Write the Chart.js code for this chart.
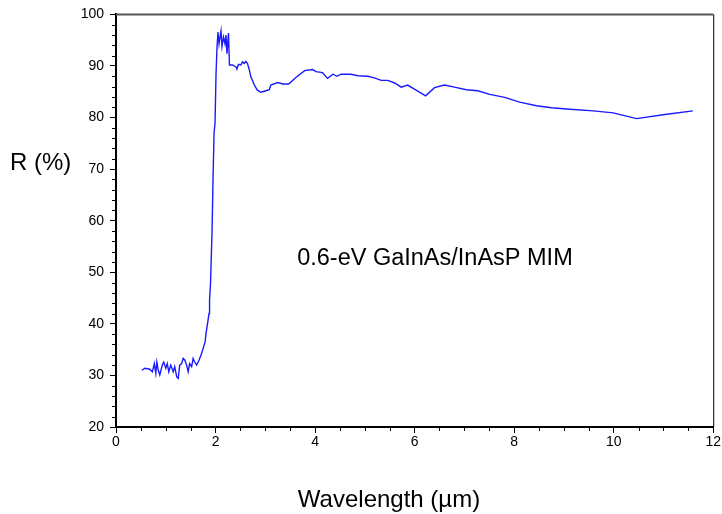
<!DOCTYPE html>
<html lang="en">

<head>
    <meta charset="UTF-8">
    <title>R vs Wavelength</title>
    <script src="https://cdn.jsdelivr.net/npm/chart.js@4.4.0/dist/chart.umd.min.js"></script>
    <style>
        body { margin: 0; background: #fff; }
    </style>
</head>

<body>
    <canvas id="reflChart" width="722" height="514"></canvas>

    <script>
        // wavelength (um) and reflectance (%)
        const wavelength = [
            0.52, 0.58, 0.68, 0.73, 0.77, 0.80, 0.82, 0.85, 0.88, 0.93, 0.96, 1.00, 1.03, 1.06, 1.10,
            1.15, 1.18, 1.22, 1.25, 1.28, 1.32, 1.35, 1.38, 1.42, 1.45, 1.48, 1.52, 1.55, 1.58, 1.62,
            1.67, 1.71, 1.75, 1.79, 1.81, 1.84, 1.87, 1.88, 1.90, 1.93, 1.95, 1.97, 1.99, 2.01, 2.03,
            2.05, 2.07, 2.11, 2.13, 2.16, 2.19, 2.21, 2.23, 2.26, 2.28, 2.34, 2.41, 2.43, 2.46, 2.51,
            2.54, 2.58, 2.61, 2.64, 2.68, 2.71, 2.78, 2.84, 2.91, 2.98, 3.08, 3.11, 3.25, 3.35, 3.47,
            3.62, 3.79, 3.95, 4.02, 4.15, 4.25, 4.36, 4.44, 4.52, 4.72, 4.86, 5.06, 5.19, 5.33, 5.46,
            5.60, 5.73, 5.86, 6.03, 6.22, 6.40, 6.60, 6.80, 7.04, 7.27, 7.51, 7.81, 8.11, 8.45, 8.75,
            9.12, 9.59, 9.99, 10.46, 11.03, 11.59
        ];
        const reflectance = [
            31.0, 31.4, 31.2, 30.7, 32.3, 30.4, 32.6, 31.0, 30.1, 32.0, 32.6, 31.4, 32.3, 30.7, 32.0,
            30.7, 31.7, 29.7, 29.4, 32.0, 32.3, 33.3, 33.0, 32.0, 30.7, 32.3, 31.7, 33.3, 32.6, 32.0,
            33.0, 34.0, 35.2, 36.5, 38.2, 40.1, 42.0, 44.6, 48.0, 58.0, 68.3, 77.0, 78.9, 88.5, 93.7,
            96.6, 94.3, 96.8, 93.8, 95.6, 94.3, 96.0, 92.4, 96.4, 90.2, 90.2, 89.8, 89.4, 90.3, 90.2,
            90.8, 90.5, 90.9, 90.5, 89.2, 87.9, 86.3, 85.3, 84.9, 85.1, 85.4, 86.3, 86.8, 86.5, 86.5,
            87.8, 89.1, 89.3, 88.9, 88.7, 87.6, 88.4, 88.0, 88.4, 88.4, 88.1, 88.0, 87.7, 87.2, 87.2,
            86.7, 85.9, 86.3, 85.3, 84.2, 85.8, 86.3, 85.9, 85.4, 85.2, 84.5, 83.9, 83.0, 82.3, 81.9,
            81.6, 81.3, 80.9, 79.8, 80.6, 81.3
        ];

        const xMin = 0, xMax = 12, xStep = 0.5, xLabelEvery = 2;
        const yMin = 20, yMax = 100, yStep = 2, yLabelEvery = 10;

        const sampleLabel = '0.6-eV GaInAs/InAsP MIM';
        const xTitle = 'Wavelength (\u00b5m)';
        const yTitle = 'R (%)';

        const isMajor = (v, every) => Math.abs(v / every - Math.round(v / every)) < 1e-6;

        // minor ticks, frame and the free text labels
        const decorations = {
            id: 'decorations',
            afterDraw(chart) {
                const ctx = chart.ctx;
                const area = chart.chartArea;
                const xs = chart.scales.x;
                const ys = chart.scales.y;

                ctx.save();
                ctx.strokeStyle = '#000';
                ctx.lineWidth = 1;
                ctx.beginPath();
                xs.ticks.forEach(t => {
                    if (isMajor(t.value, xLabelEvery)) return;
                    const px = Math.round(xs.getPixelForValue(t.value)) + 0.5;
                    ctx.moveTo(px, area.bottom);
                    ctx.lineTo(px, area.bottom + 4);
                });
                ys.ticks.forEach(t => {
                    if (isMajor(t.value, yLabelEvery)) return;
                    const py = Math.round(ys.getPixelForValue(t.value)) + 0.5;
                    ctx.moveTo(area.left, py);
                    ctx.lineTo(area.left - 4, py);
                });
                ctx.stroke();

                // top and right frame
                ctx.strokeStyle = '#555';
                ctx.lineWidth = 2;
                ctx.beginPath();
                ctx.moveTo(area.left, area.top);
                ctx.lineTo(area.right, area.top);
                ctx.stroke();
                ctx.strokeStyle = '#000';
                ctx.lineWidth = 1;
                ctx.beginPath();
                ctx.moveTo(area.right + 0.5, area.top);
                ctx.lineTo(area.right + 0.5, area.bottom);
                ctx.stroke();

                ctx.fillStyle = '#000';
                ctx.textBaseline = 'middle';
                ctx.textAlign = 'left';
                ctx.font = '23.5px "Liberation Sans", Arial, sans-serif';
                ctx.fillText(sampleLabel, xs.getPixelForValue(3.64), ys.getPixelForValue(52.6));
                ctx.font = '24px "Liberation Sans", Arial, sans-serif';
                ctx.fillText(yTitle, 10, 163);
                ctx.textAlign = 'center';
                ctx.fillText(xTitle, 389, 500);
                ctx.restore();
            }
        };

        function createChart() {
            const ctx = document.getElementById('reflChart').getContext('2d');
            const points = wavelength.map((w, i) => ({ x: w, y: reflectance[i] }));

            const tickFont = { family: '"Liberation Sans", Arial, sans-serif', size: 14 };

            new Chart(ctx, {
                type: 'line',
                data: {
                    datasets: [{
                        data: points,
                        borderColor: '#1a1aff',
                        borderWidth: 1.4,
                        pointRadius: 0,
                        tension: 0,
                        fill: false
                    }]
                },
                options: {
                    responsive: false,
                    animation: false,
                    devicePixelRatio: 1,
                    layout: { padding: { left: 0, right: 8, top: 14, bottom: 0 } },
                    plugins: {
                        legend: { display: false },
                        tooltip: { enabled: false }
                    },
                    scales: {
                        x: {
                            type: 'linear',
                            min: xMin,
                            max: xMax,
                            afterFit: scale => { scale.height = 87; },
                            border: { display: true, color: '#000', width: 2 },
                            grid: {
                                drawOnChartArea: false,
                                drawTicks: true,
                                tickLength: 6,
                                tickWidth: 1,
                                tickColor: c => isMajor(c.tick.value, xLabelEvery) ? '#000' : 'rgba(0,0,0,0)'
                            },
                            ticks: {
                                stepSize: xStep,
                                autoSkip: false,
                                maxRotation: 0,
                                color: '#000',
                                font: tickFont,
                                padding: 1,
                                callback: v => isMajor(v, xLabelEvery) ? String(v) : ''
                            }
                        },
                        y: {
                            type: 'linear',
                            min: yMin,
                            max: yMax,
                            afterFit: scale => { scale.width = 116; },
                            border: { display: true, color: '#000', width: 2 },
                            grid: {
                                drawOnChartArea: false,
                                drawTicks: true,
                                tickLength: 6,
                                tickWidth: 1,
                                tickColor: c => isMajor(c.tick.value, yLabelEvery) ? '#000' : 'rgba(0,0,0,0)'
                            },
                            ticks: {
                                stepSize: yStep,
                                autoSkip: false,
                                color: '#000',
                                font: tickFont,
                                padding: 6,
                                callback: v => isMajor(v, yLabelEvery) ? String(v) : ''
                            }
                        }
                    }
                },
                plugins: [decorations]
            });
        }

        createChart();
    </script>
</body>

</html>
